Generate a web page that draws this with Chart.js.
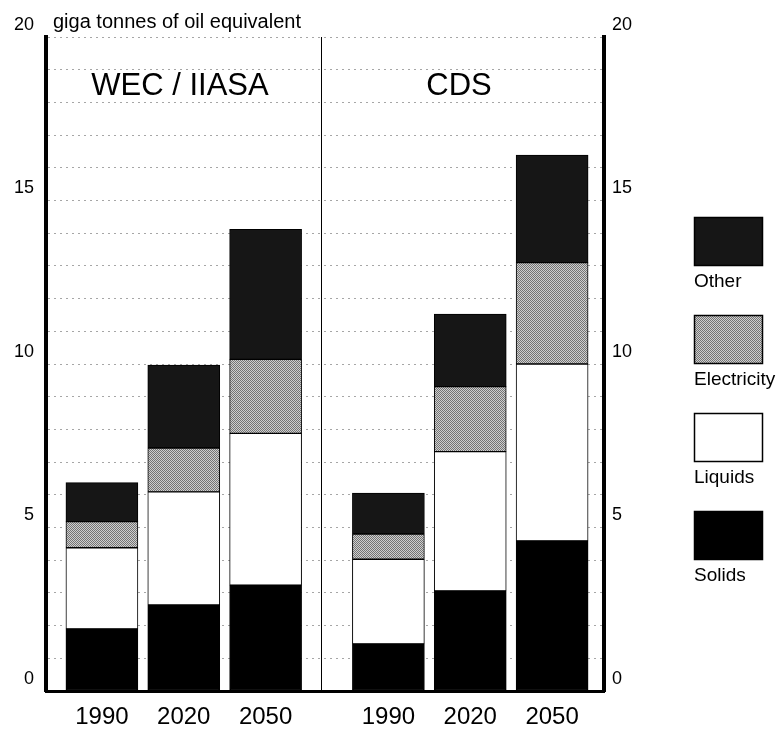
<!DOCTYPE html>
<html><head><meta charset="utf-8">
<script src="https://cdn.jsdelivr.net/npm/chart.js@4.4.1/dist/chart.umd.min.js"></script>
<style>html,body{margin:0;padding:0;background:#fff;}#wrap{position:relative;width:783px;height:729px;}</style>
</head><body><div id="wrap"><canvas id="c" width="783" height="729"></canvas></div>
<script>
// ---- data ----
const scenarios = ['WEC / IIASA', 'CDS'];
const years = ['1990', '2020', '2050'];
const unitLabel = 'giga tonnes of oil equivalent';
const seriesNames = ['Solids', 'Liquids', 'Electricity', 'Other'];
// order: WEC 1990, 2020, 2050, CDS 1990, 2020, 2050
const solids      = [1.90, 2.63, 3.24, 1.44, 3.06, 4.59];
const liquids     = [2.48, 3.46, 4.64, 2.59, 4.26, 5.41];
const electricity = [0.80, 1.34, 2.26, 0.77, 1.99, 3.10];
const other       = [1.19, 2.54, 3.98, 1.25, 2.22, 3.29];
const yMax = 20, yLabelStep = 5;

// ---- layout helpers ----
const groupGap = 0.5;
const positions = solids.map((_, i) => i + Math.floor(i / years.length) * groupGap);
const dividerValue = (positions[years.length - 1] + positions[years.length]) / 2 - 0.07;

function stipple() {
  const c = document.createElement('canvas'); c.width = 2; c.height = 2;
  const g = c.getContext('2d');
  g.fillStyle = '#cfcfcf'; g.fillRect(0, 0, 2, 2);
  g.fillStyle = '#747474'; g.fillRect(0, 0, 1, 1); g.fillRect(1, 1, 1, 1);
  return g.createPattern(c, 'repeat');
}
const fills = ['#000000', '#ffffff', stipple(), '#161616'];
const seriesData = [solids, liquids, electricity, other];

const FONT = "'Liberation Sans', Arial, Helvetica, sans-serif";

const decor = {
  id: 'decor',
  afterDatasetsDraw(chart) {
    const ctx = chart.ctx, xs = chart.scales.x, a = chart.chartArea;
    ctx.save();
    const dx = Math.round(xs.getPixelForValue(dividerValue)) + 0.5;
    ctx.strokeStyle = '#000'; ctx.lineWidth = 1;
    ctx.beginPath(); ctx.moveTo(dx, a.top); ctx.lineTo(dx, a.bottom); ctx.stroke();
    ctx.fillStyle = '#000';
    ctx.textBaseline = 'middle';
    ctx.font = '20px ' + FONT; ctx.textAlign = 'left';
    ctx.fillText(unitLabel, 53, 22);
    ctx.font = '31px ' + FONT; ctx.textAlign = 'center';
    ctx.fillText(scenarios[0], 180, 86);
    ctx.fillText(scenarios[1], 459, 86);
    const ds = chart.data.datasets.slice().reverse();
    ds.forEach((d, k) => {
      const top = 217 + k * 98;
      ctx.fillStyle = d.backgroundColor;
      ctx.fillRect(694, top, 69, 49);
      ctx.strokeStyle = '#000'; ctx.lineWidth = 1.5;
      ctx.strokeRect(694.5, top + 0.5, 68, 48);
      ctx.fillStyle = '#000';
      ctx.font = '19px ' + FONT; ctx.textAlign = 'left';
      ctx.fillText(d.label, 694, top + 65);
    });
    ctx.restore();
  }
};

const yTickCb = v => (v % yLabelStep === 0 ? String(v) : '');

new Chart(document.getElementById('c'), {
  type: 'bar',
  data: {
    datasets: seriesNames.map((name, s) => ({
      label: name,
      data: seriesData[s].map((v, i) => ({ x: positions[i], y: v })),
      backgroundColor: fills[s],
      borderColor: '#000',
      borderWidth: 1,
      borderSkipped: false,
      barThickness: 72
    }))
  },
  plugins: [decor],
  options: {
    responsive: false, animation: false, devicePixelRatio: 1,
    layout: { padding: { top: 37, right: 139, bottom: 0, left: 0 } },
    plugins: { legend: { display: false }, tooltip: { enabled: false } },
    scales: {
      x: {
        type: 'linear', stacked: true, offset: false,
        min: positions[0] - 0.683, max: positions[positions.length - 1] + 0.634,
        grid: { display: false, drawTicks: false, offset: false },
        border: { display: true, width: 3, color: '#000' },
        afterBuildTicks: sc => { sc.ticks = positions.map(v => ({ value: v })); },
        afterFit: sc => { sc.height = 38; },
        ticks: {
          autoSkip: false, maxRotation: 0, padding: 12, color: '#000',
          font: { family: FONT, size: 24 },
          callback: (v, i) => years[i % years.length]
        }
      },
      y: {
        position: 'left', stacked: true, min: 0, max: yMax,
        afterFit: sc => { sc.width = 46; },
        grid: { color: 'rgba(0,0,0,0.35)', lineWidth: 1, drawTicks: false },
        border: { display: true, width: 4, color: '#000', dash: [2, 4] },
        ticks: { stepSize: 1, autoSkip: false, padding: 12, labelOffset: -12, color: '#000',
          font: { family: FONT, size: 18 }, callback: yTickCb }
      },
      y2: {
        position: 'right', min: 0, max: yMax,
        afterFit: sc => { sc.width = 40; },
        grid: { display: false, drawTicks: false },
        border: { display: true, width: 4, color: '#000' },
        ticks: { stepSize: 1, autoSkip: false, padding: 8, labelOffset: -12, color: '#000',
          font: { family: FONT, size: 18 }, callback: yTickCb }
      }
    }
  }
});
</script></body></html>
